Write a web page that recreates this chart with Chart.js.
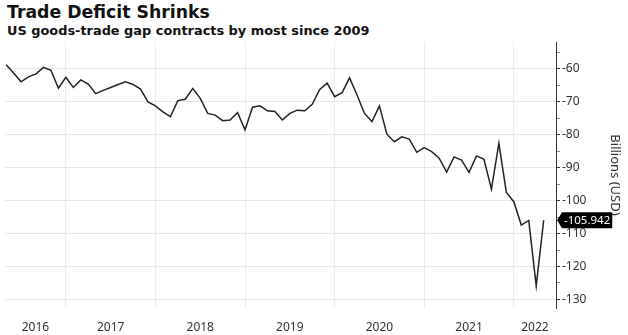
<!DOCTYPE html>
<html>
<head>
<meta charset="utf-8">
<script src="https://cdn.jsdelivr.net/npm/chart.js@4/dist/chart.umd.min.js"></script>
<style>
  html, body { margin: 0; padding: 0; background: #fff; }
  #wrap { position: relative; width: 628px; height: 335px; overflow: hidden; }
  #chart { position: absolute; left: 0; top: 0; }
  .title { position: absolute; left: 7px; top: 2px; font: bold 17.3px "DejaVu Sans", sans-serif; color: #111; white-space: nowrap; }
  .subtitle { position: absolute; left: 7px; top: 23px; font: bold 12.9px "DejaVu Sans", sans-serif; color: #111; white-space: nowrap; }
</style>
</head>
<body>
<div id="wrap">
  <div class="title">Trade Deficit Shrinks</div>
  <div class="subtitle">US goods-trade gap contracts by most since 2009</div>
  <canvas id="chart" width="628" height="335"></canvas>
</div>
<script>
// Monthly US goods-trade balance, billions of USD
const months = [
  '2016-04','2016-05','2016-06','2016-07','2016-08','2016-09','2016-10','2016-11','2016-12',
  '2017-01','2017-02','2017-03','2017-04','2017-05','2017-06','2017-07','2017-08','2017-09','2017-10','2017-11','2017-12',
  '2018-01','2018-02','2018-03','2018-04','2018-05','2018-06','2018-07','2018-08','2018-09','2018-10','2018-11','2018-12',
  '2019-01','2019-02','2019-03','2019-04','2019-05','2019-06','2019-07','2019-08','2019-09','2019-10','2019-11','2019-12',
  '2020-01','2020-02','2020-03','2020-04','2020-05','2020-06','2020-07','2020-08','2020-09','2020-10','2020-11','2020-12',
  '2021-01','2021-02','2021-03','2021-04','2021-05','2021-06','2021-07','2021-08','2021-09','2021-10','2021-11','2021-12',
  '2022-01','2022-02','2022-03','2022-04'
];
const balance = [
  -58.7, -61.2, -63.9, -62.4, -61.5, -59.5, -60.4, -65.8, -62.5,
  -65.6, -63.3, -64.6, -67.5, -66.5, -65.6, -64.7, -63.9, -64.7, -66.1, -70.0, -71.2,
  -73.0, -74.5, -69.6, -69.2, -65.9, -68.9, -73.5, -74.0, -75.7, -75.5, -73.2, -78.5,
  -71.6, -71.2, -72.7, -72.9, -75.5, -73.5, -72.5, -72.7, -70.7, -66.2, -64.3, -68.4,
  -67.2, -62.7, -67.9, -73.5, -76.0, -71.2, -79.8, -82.1, -80.6, -81.3, -85.3, -83.9,
  -85.1, -87.1, -91.3, -86.7, -87.7, -91.4, -86.4, -87.4, -96.5, -82.6, -97.5, -100.3,
  -107.4, -106.0, -125.9, -105.942
];
const yearLabels = ['2016', '2017', '2018', '2019', '2020', '2021', '2022'];
const yTickValues = [-60, -70, -80, -90, -100, -110, -120, -130];

const BASE_YEAR = 2016;
// month-end position, counted in months from the start of BASE_YEAR
function monthPos(s) {
  const [y, m] = s.split('-').map(Number);
  return (y - BASE_YEAR) * 12 + m;
}
const points = months.map((m, i) => ({ x: monthPos(m), y: balance[i] }));

const X_MIN = 3.85, X_MAX = 77.65;
const Y_MIN = -132.6, Y_MAX = -51.8;

// year boundaries get grid lines, year centres get the labels
const yearStarts = yearLabels.slice(1).map(y => (Number(y) - BASE_YEAR) * 12);
const yearCentres = yearLabels.map(y => {
  const a = Math.max(X_MIN, (Number(y) - BASE_YEAR) * 12);
  const b = Math.min(X_MAX, (Number(y) - BASE_YEAR + 1) * 12);
  return (a + b) / 2;
});

const lastValueTag = {
  id: 'lastValueTag',
  afterDraw(chart) {
    const { ctx } = chart;
    const yScale = chart.scales.y;
    const v = balance[balance.length - 1];
    const y = yScale.getPixelForValue(v);
    const x0 = yScale.left + 1;
    const text = v.toFixed(3);
    ctx.save();
    ctx.font = '11.5px "Noto Sans", sans-serif';
    const w = ctx.measureText(text).width + 4;
    const h = 16;
    const bx = x0 + 5;
    ctx.fillStyle = '#000';
    ctx.beginPath();
    ctx.moveTo(x0, y);
    ctx.lineTo(bx, y - h / 2);
    ctx.lineTo(bx + w, y - h / 2);
    ctx.lineTo(bx + w, y + h / 2);
    ctx.lineTo(bx, y + h / 2);
    ctx.closePath();
    ctx.fill();
    ctx.fillStyle = '#fff';
    ctx.textBaseline = 'middle';
    ctx.textAlign = 'left';
    ctx.fillText(text, bx + 2, y + 0.5);
    ctx.restore();
  }
};

new Chart(document.getElementById('chart'), {
  type: 'line',
  data: {
    datasets: [{
      data: points,
      borderColor: '#222',
      borderWidth: 1.5,
      pointRadius: 0,
      tension: 0,
      fill: false
    }]
  },
  options: {
    responsive: false,
    animation: false,
    layout: { padding: { left: 5, top: 42, right: 0, bottom: 0 } },
    plugins: { legend: { display: false }, tooltip: { enabled: false } },
    scales: {
      x: {
        type: 'linear',
        min: X_MIN,
        max: X_MAX,
        afterBuildTicks(scale) {
          scale.ticks = yearStarts.concat(yearCentres).sort((a, b) => a - b).map(v => ({ value: v }));
        },
        afterFit(scale) { scale.height = 27; },
        border: { display: false },
        grid: {
          drawTicks: false,
          lineWidth: 1,
          color(ctx) {
            const v = ctx.tick ? ctx.tick.value : NaN;
            return yearStarts.includes(v) ? '#ececec' : 'rgba(0,0,0,0)';
          }
        },
        ticks: {
          autoSkip: false,
          maxRotation: 0,
          padding: 12,
          color: '#333',
          font: { family: '"Noto Sans", sans-serif', size: 12 },
          callback(value) {
            const i = yearCentres.findIndex(c => Math.abs(c - value) < 1e-6);
            return i >= 0 ? yearLabels[i] : '';
          }
        }
      },
      y: {
        type: 'linear',
        position: 'right',
        min: Y_MIN,
        max: Y_MAX,
        afterBuildTicks(scale) {
          const t = [];
          for (let i = 0; i < yTickValues.length; i++) {
            t.push({ value: yTickValues[i] });
            if (i < yTickValues.length - 1) t.push({ value: (yTickValues[i] + yTickValues[i + 1]) / 2 });
          }
          t.push({ value: yTickValues[0] + 5 });
          scale.ticks = t.sort((a, b) => a.value - b.value);
        },
        afterFit(scale) { scale.width = 72; },
        border: { display: true, color: '#333', width: 1 },
        grid: {
          drawTicks: true,
          tickLength: 4,
          lineWidth: 1,
          color(ctx) {
            const v = ctx.tick ? ctx.tick.value : NaN;
            return yTickValues.includes(v) ? '#e6e6e6' : 'rgba(0,0,0,0)';
          },
          tickColor(ctx) {
            const v = ctx.tick ? ctx.tick.value : NaN;
            return yTickValues.includes(v) ? '#333' : '#888';
          }
        },
        ticks: {
          padding: 2,
          color: '#333',
          font: { family: '"Noto Sans", sans-serif', size: 12 },
          callback(value) { return yTickValues.includes(value) ? String(value) : ''; }
        },
        title: {
          display: true,
          text: 'Billions (USD)',
          color: '#333',
          font: { family: '"Noto Sans", sans-serif', size: 13 },
          padding: { top: 5, bottom: 0 }
        }
      }
    }
  },
  plugins: [lastValueTag]
});
</script>
</body>
</html>
